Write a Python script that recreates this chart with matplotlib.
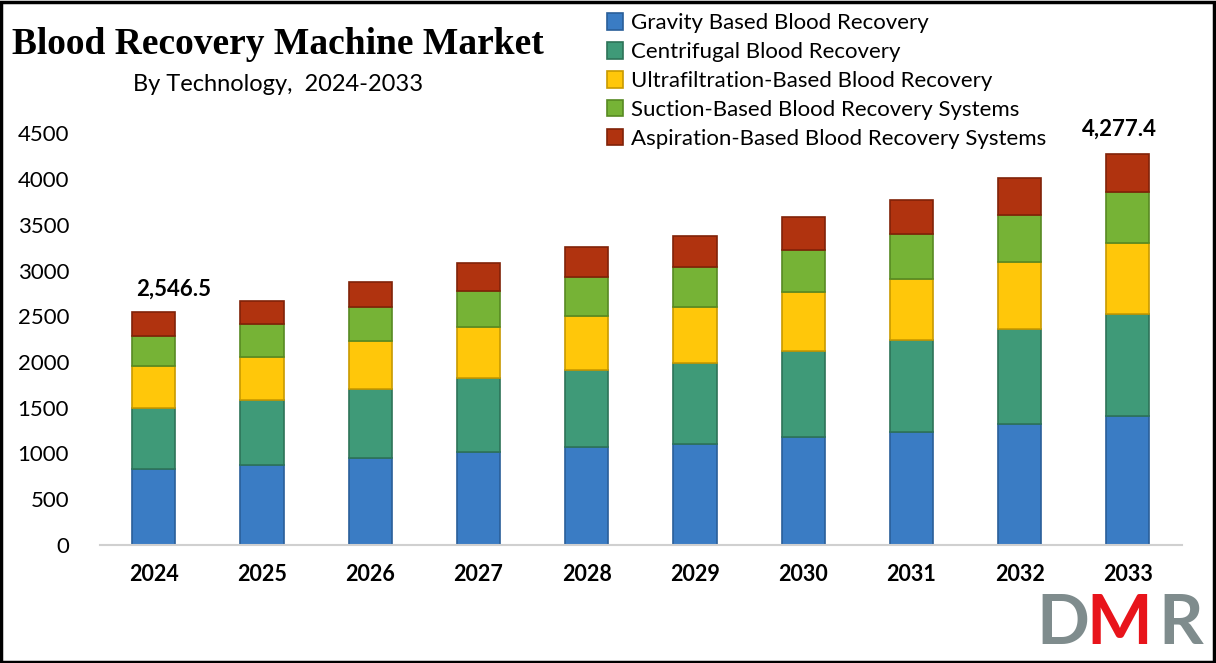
import numpy as np
import matplotlib.pyplot as plt
from matplotlib.patches import Rectangle

years = ['2024', '2025', '2026', '2027', '2028', '2029', '2030', '2031', '2032', '2033']
gravity = [830, 878, 951, 1017, 1068, 1109, 1182, 1237, 1317, 1415]
centrifugal = [667, 703, 758, 813, 849, 885, 933, 1002, 1047, 1112]
ultrafiltration = [461, 479, 516, 548, 589, 611, 651, 670, 724, 770]
suction = [325, 355, 373, 399, 421, 432, 461, 487, 523, 558]
aspiration = [263.5, 252, 278, 308, 326, 337, 355, 380, 396, 422.4]

series_names = ['Gravity Based Blood Recovery', 'Centrifugal Blood Recovery',
                'Ultrafiltration-Based Blood Recovery', 'Suction-Based Blood Recovery Systems',
                'Aspiration-Based Blood Recovery Systems']
colors = ['#3a7cc4', '#3f9a78', '#ffc70a', '#76b336', '#b0330f']
edges = ['#2a5f99', '#2d7358', '#c89a00', '#578a22', '#802208']

plt.rcParams['font.family'] = ['Lato', 'DejaVu Sans']

fig = plt.figure(figsize=(12.16, 6.63), dpi=100)
ax = fig.add_axes([0.082, 0.178, 0.89, 0.621])

x = np.arange(len(years))
bottom = np.zeros(len(years))
handles = []
for name, vals, c, ec in zip(series_names, [gravity, centrifugal, ultrafiltration, suction, aspiration], colors, edges):
    b = ax.bar(x, vals, 0.4, bottom=bottom, color=c, edgecolor=ec, linewidth=1.2, label=name)
    handles.append(b)
    bottom += np.array(vals)

ax.set_xlim(-0.5, 9.5)
ax.set_ylim(0, 4500)
ax.set_yticks(np.arange(0, 4501, 500))
ax.set_xticks(x)
ax.set_xticklabels(years, fontsize=15.5, fontweight='bold')
ax.tick_params(axis='y', labelsize=16, length=0, pad=22)
ax.tick_params(axis='x', length=0, pad=14)
for s in ['top', 'right', 'left']:
    ax.spines[s].set_visible(False)
ax.spines['bottom'].set_color('#d0d0d0')
ax.spines['bottom'].set_linewidth(1.5)

totals = bottom
ax.annotate('2,546.5', (x[0], totals[0]), xytext=(14, 9), textcoords='offset points',
            ha='center', va='bottom', fontsize=16, fontweight='bold')
ax.annotate('4,277.4', (x[-1], totals[-1]), xytext=(-6, 10), textcoords='offset points',
            ha='center', va='bottom', fontsize=16, fontweight='bold')

fig.text(0.01, 0.933, 'Blood Recovery Machine Market', family='Liberation Serif',
         fontsize=27, fontweight='bold', ha='left', va='center')
fig.text(0.229, 0.873, 'By Technology,  2024-2033', fontsize=17, ha='center', va='center')

fig.legend(handles=handles, loc='upper left', bbox_to_anchor=(0.488, 1.0), frameon=False,
           fontsize=16, handlelength=0.75, handleheight=0.75, handletextpad=0.35,
           labelspacing=0.4, borderaxespad=0.2)

# logo
fig.text(0.852, 0.058, 'D', fontsize=50, fontweight='bold', color='#7f8c8d', ha='left', va='center')
fig.text(0.893, 0.058, 'M', fontsize=50, fontweight='bold', color='#e8141b', ha='left', va='center')
fig.text(0.953, 0.058, 'R', fontsize=50, fontweight='bold', color='#7f8c8d', ha='left', va='center')

fig.patches.append(Rectangle((0.001, 0.002), 0.997, 0.995, transform=fig.transFigure,
                             fill=False, edgecolor='black', linewidth=2.5))

fig.savefig('out.png', dpi=100)
